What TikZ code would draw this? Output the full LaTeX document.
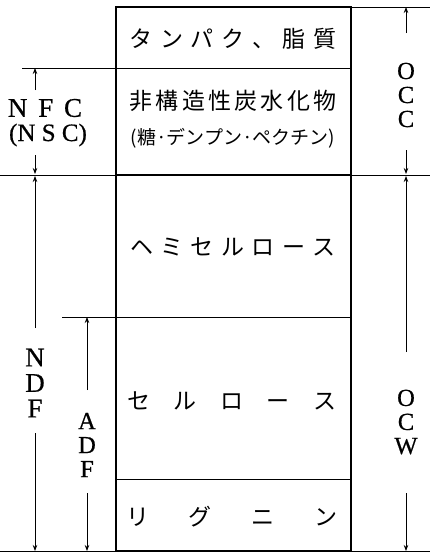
\documentclass[tikz,border=0pt]{standalone}
\usepackage{fontspec}
\setmainfont{Liberation Serif}
\newfontfamily\latin[FakeBold=0.6]{Liberation Serif}
\newfontfamily\jp{Noto Sans CJK JP}
\usetikzlibrary{arrows.meta}
\newlength\cw
\newcommand\cb[1]{\makebox[\cw]{#1}}
\begin{document}
\begin{tikzpicture}[x=1pt,y=-1pt,
  thinline/.style={line width=0.9pt},
  thickline/.style={line width=2.4pt},
  dim/.style={line width=0.8pt,-{Stealth[length=6pt,width=4.5pt]}},
  latbig/.style={inner sep=0pt,font=\latin\fontsize{27}{25.5}\selectfont,align=center},
  latnsc/.style={inner sep=0pt,font=\latin\fontsize{25}{25}\selectfont,align=center},
  latmid/.style={inner sep=0pt,font=\latin\fontsize{24.5}{24}\selectfont,align=center},
  jtext/.style={inner sep=0pt,font=\jp\fontsize{23}{24}\selectfont},
  jsmall/.style={inner sep=0pt,font=\jp\fontsize{19}{20}\selectfont},
]
\useasboundingbox (0,0) rectangle (430,554);
% box corners and line ends
\coordinate (bTL) at (116,7);   \coordinate (bTR) at (351,7);
\coordinate (bBL) at (116,551); \coordinate (bBR) at (351,551);
\coordinate (eT)  at (430,7);
\coordinate (a68) at (22,68);   \coordinate (b68) at (351,68);
\coordinate (a175) at (0,175);  \coordinate (c175) at (116,175);
\coordinate (d175) at (351,175); \coordinate (b175) at (430,175);
\coordinate (a317) at (62,317); \coordinate (b317) at (351,317);
\coordinate (a479) at (116,479); \coordinate (b479) at (351,479);
\coordinate (a551) at (0,551);  \coordinate (b551) at (430,551);
% lines
\draw[thinline] (bTR) -- (eT);
\draw[thinline] (a68) -- (b68);
\draw[thinline] (a175) -- (b175);
\draw[thickline] (c175) -- (d175);
\draw[thinline] (a317) -- (b317);
\draw[thinline] (a479) -- (b479);
\draw[thinline] (a551) -- (b551);
\draw[thickline] (bTL) rectangle (bBR);
% box texts
\node[jtext] (t1) at (233,39) {\setlength\cw{30.7pt}\cb{タ}\cb{ン}\cb{パ}\cb{ク}\cb{、}\cb{脂}\cb{質}};
\node[jtext] (t2) at (233,101) {\setlength\cw{26.25pt}\cb{非}\cb{構}\cb{造}\cb{性}\cb{炭}\cb{水}\cb{化}\cb{物}};
\node[jsmall] (t3) at (233,138) {(糖·デンプン·ペクチン)};
\node[jtext] (t4) at (233,247) {\setlength\cw{30.5pt}\cb{ヘ}\cb{ミ}\cb{セ}\cb{ル}\cb{ロ}\cb{ー}\cb{ス}};
\node[jtext] (t5) at (232,401) {\setlength\cw{46.5pt}\cb{セ}\cb{ル}\cb{ロ}\cb{ー}\cb{ス}};
\node[jtext] (t6) at (232,517) {\setlength\cw{63pt}\cb{リ}\cb{グ}\cb{ニ}\cb{ン}};
% side labels
\node[latbig] (nfc) at (45,108) {N\hspace{0.4em}F\hspace{0.4em}C};
\node[latnsc] (nsc) at (48,135) {(N\hspace{0.25em}S\hspace{0.25em}C)};
\node[latbig] (ndf) at (35,383) {N\\D\\F};
\node[latmid] (adf) at (87,445) {A\\D\\F};
\node[latmid] (occ) at (406,95) {O\\C\\C};
\node[latmid] (ocw) at (406,422) {O\\C\\W};
% arrow tails
\coordinate (nfcU) at (35,90);   \coordinate (nfcUt) at (35,68);
\coordinate (nfcD) at (35,155);  \coordinate (nfcDt) at (35,174);
\coordinate (ndfU) at (35,328);  \coordinate (ndfUt) at (35,176);
\coordinate (ndfD) at (35,433);  \coordinate (ndfDt) at (35,551);
\coordinate (adfU) at (87,390);  \coordinate (adfUt) at (87,317);
\coordinate (adfD) at (87,493);  \coordinate (adfDt) at (87,551);
\coordinate (occU) at (406,33);  \coordinate (occUt) at (406,7);
\coordinate (occD) at (406,150); \coordinate (occDt) at (406,174);
\coordinate (ocwU) at (406,352); \coordinate (ocwUt) at (406,176);
\coordinate (ocwD) at (406,493); \coordinate (ocwDt) at (406,551);
\draw[dim] (nfcU) -- (nfcUt);
\draw[dim] (nfcD) -- (nfcDt);
\draw[dim] (ndfU) -- (ndfUt);
\draw[dim] (ndfD) -- (ndfDt);
\draw[dim] (adfU) -- (adfUt);
\draw[dim] (adfD) -- (adfDt);
\draw[dim] (occU) -- (occUt);
\draw[dim] (occD) -- (occDt);
\draw[dim] (ocwU) -- (ocwUt);
\draw[dim] (ocwD) -- (ocwDt);
\end{tikzpicture}
\end{document}
